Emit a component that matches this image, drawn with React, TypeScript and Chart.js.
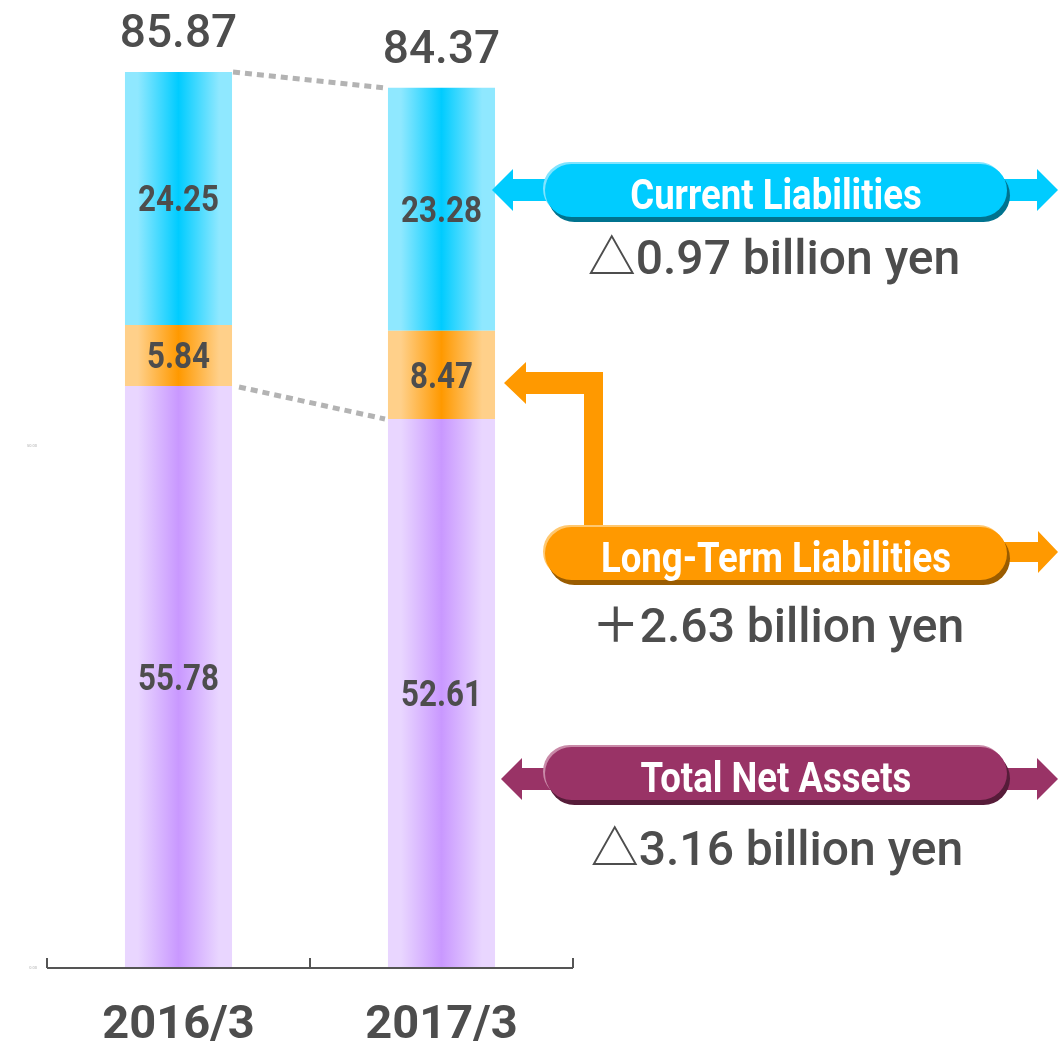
import React, { useEffect, useRef } from "react";
import { Chart, registerables } from "chart.js";

Chart.register(...registerables);

// ---------- data ----------
const categories = ["2016/3", "2017/3"];
const netAssets = [55.78, 52.61];
const longTermLiabilities = [5.84, 8.47];
const currentLiabilities = [24.25, 23.28];
const totals = [85.87, 84.37];
const yTicks = [0, 50];
const annotationTitles = ["Current Liabilities", "Long-Term Liabilities", "Total Net Assets"];
const annotationChanges = ["△0.97 billion yen", "＋2.63 billion yen", "△3.16 billion yen"];

// ---------- style ----------
const W = 1058;
const H = 1046;
const TEXT = "#4d4d4d";
const FONT = "Roboto, 'Noto Sans CJK JP', sans-serif";
const BAR_PCT = 0.407;

const palette = {
  current: { edge: "#8fe8ff", center: "#00ccff", pill: "#00ccff", dark: "#00738f", light: "#80e4ff" },
  long: { edge: "#ffd08a", center: "#ff9900", pill: "#ff9900", dark: "#9a5c00", light: "#ffc870" },
  net: { edge: "#e9d6ff", center: "#c998ff", pill: "#993366", dark: "#561c39", light: "#c98aa8" },
};

function barGradient(edge: string, center: string) {
  return (c: any) => {
    const chart = c.chart;
    const xs = chart.scales && chart.scales.x;
    if (!xs || !chart.chartArea || c.dataIndex === undefined) return center;
    const cx = xs.getPixelForValue(c.dataIndex);
    const half = ((xs.width / categories.length) * BAR_PCT) / 2;
    const g = chart.ctx.createLinearGradient(cx - half, 0, cx + half, 0);
    g.addColorStop(0, edge);
    g.addColorStop(0.12, edge);
    g.addColorStop(0.5, center);
    g.addColorStop(0.88, edge);
    g.addColorStop(1, edge);
    return g;
  };
}

function drawText(
  ctx: CanvasRenderingContext2D,
  s: string,
  x: number,
  capCenterY: number,
  size: number,
  weight: string,
  color: string,
  scaleX = 1
) {
  ctx.save();
  ctx.font = `${weight} ${size}px ${FONT}`;
  ctx.fillStyle = color;
  ctx.textAlign = "center";
  ctx.textBaseline = "alphabetic";
  ctx.translate(x, capCenterY + (size * 0.711) / 2);
  ctx.scale(scaleX, 1);
  ctx.fillText(s, 0, 0);
  ctx.restore();
}

function roundPill(ctx: CanvasRenderingContext2D, x: number, y: number, w: number, h: number) {
  const r = h / 2;
  ctx.beginPath();
  ctx.moveTo(x + r, y);
  ctx.lineTo(x + w - r, y);
  ctx.arc(x + w - r, y + r, r, -Math.PI / 2, Math.PI / 2);
  ctx.lineTo(x + r, y + h);
  ctx.arc(x + r, y + r, r, Math.PI / 2, (3 * Math.PI) / 2);
  ctx.closePath();
  ctx.fill();
}

function drawPill(ctx: CanvasRenderingContext2D, x: number, y: number, w: number, h: number, c: any) {
  ctx.fillStyle = c.light;
  roundPill(ctx, x - 2, y - 2, w, h);
  ctx.fillStyle = c.dark;
  roundPill(ctx, x + 3, y + 5, w, h);
  ctx.fillStyle = c.pill;
  roundPill(ctx, x, y, w, h);
}

function poly(ctx: CanvasRenderingContext2D, pts: number[][], color: string) {
  ctx.fillStyle = color;
  ctx.beginPath();
  ctx.moveTo(pts[0][0], pts[0][1]);
  for (let i = 1; i < pts.length; i++) ctx.lineTo(pts[i][0], pts[i][1]);
  ctx.closePath();
  ctx.fill();
}

// double-headed horizontal arrow
function doubleArrow(ctx: CanvasRenderingContext2D, l: number, r: number, yc: number, color: string) {
  const sh = 11, hh = 21, hl = 21;
  poly(
    ctx,
    [
      [l, yc],
      [l + hl, yc - hh],
      [l + hl, yc - sh],
      [r - hl, yc - sh],
      [r - hl, yc - hh],
      [r, yc],
      [r - hl, yc + hh],
      [r - hl, yc + sh],
      [l + hl, yc + sh],
      [l + hl, yc + hh],
    ],
    color
  );
}

function rightArrow(ctx: CanvasRenderingContext2D, l: number, r: number, yc: number, color: string) {
  const sh = 10, hh = 21, hl = 20;
  poly(
    ctx,
    [
      [l, yc - sh],
      [r - hl, yc - sh],
      [r - hl, yc - hh],
      [r, yc],
      [r - hl, yc + hh],
      [r - hl, yc + sh],
      [l, yc + sh],
    ],
    color
  );
}

const overlayPlugin = {
  id: "overlay",
  afterDatasetsDraw(chart: any) {
    const ctx: CanvasRenderingContext2D = chart.ctx;
    const a = chart.chartArea;
    const metaNet = chart.getDatasetMeta(0).data;
    const metaCur = chart.getDatasetMeta(2).data;

    ctx.save();
    // x axis line with upward ticks
    ctx.strokeStyle = "#555555";
    ctx.lineWidth = 2;
    ctx.beginPath();
    ctx.moveTo(a.left, a.bottom);
    ctx.lineTo(a.right, a.bottom);
    const step = (a.right - a.left) / categories.length;
    for (let i = 0; i <= categories.length; i++) {
      const px = Math.round(a.left + step * i);
      ctx.moveTo(px, a.bottom);
      ctx.lineTo(px, a.bottom - 10);
    }
    ctx.stroke();

    // dashed connectors
    ctx.strokeStyle = "#b3b3b3";
    ctx.lineWidth = 5;
    ctx.setLineDash([7, 5]);
    const c0 = metaCur[0].getProps(["x", "y", "width"], true);
    const c1 = metaCur[1].getProps(["x", "y", "width"], true);
    ctx.beginPath();
    ctx.moveTo(c0.x + c0.width / 2 + 1, c0.y);
    ctx.lineTo(c1.x - c1.width / 2 - 5, c1.y);
    ctx.stroke();
    const n0 = metaNet[0].getProps(["x", "y", "width"], true);
    const n1 = metaNet[1].getProps(["x", "y", "width"], true);
    ctx.beginPath();
    ctx.moveTo(n0.x + n0.width / 2 + 7, n0.y + 1);
    ctx.lineTo(n1.x - n1.width / 2 - 3, n1.y);
    ctx.stroke();
    ctx.setLineDash([]);

    // segment values
    const sets = [netAssets, longTermLiabilities, currentLiabilities];
    sets.forEach((vals, di) => {
      chart.getDatasetMeta(di).data.forEach((el: any, i: number) => {
        const p = el.getProps(["x", "y", "base"], true);
        drawText(ctx, vals[i].toFixed(2), p.x, (p.y + p.base) / 2, 36, "bold", TEXT, 0.87);
      });
    });

    // totals above bars
    metaCur.forEach((el: any, i: number) => {
      const p = el.getProps(["x", "y"], true);
      drawText(ctx, totals[i].toFixed(2), p.x, p.y - 25 - 16.5, 46, "500", TEXT);
    });

    // ---- annotations ----
    const pillX = 545, pillW = 462, pillH = 53;
    const cx = pillX + pillW / 2;

    // Current liabilities
    doubleArrow(ctx, 492, 1058, 190, palette.current.pill);
    drawPill(ctx, pillX, 164, pillW, pillH, palette.current);
    drawText(ctx, annotationTitles[0], cx, 194, 42, "bold", "#ffffff", 0.87);
    drawText(ctx, annotationChanges[0], cx - 2, 257, 48, "500", TEXT);

    // Long-term liabilities (elbow arrow)
    const lp = 527;
    poly(
      ctx,
      [
        [504, 383],
        [526, 362],
        [526, 372],
        [603, 372],
        [603, lp + 5],
        [584, lp + 5],
        [584, 394],
        [526, 394],
        [526, 404],
      ],
      palette.long.pill
    );
    rightArrow(ctx, 1000, 1058, 552, palette.long.pill);
    drawPill(ctx, pillX, lp, pillW, pillH, palette.long);
    drawText(ctx, annotationTitles[1], cx, 557, 42, "bold", "#ffffff", 0.87);
    drawText(ctx, annotationChanges[1], cx + 2, 625, 48, "500", TEXT);

    // Total net assets
    doubleArrow(ctx, 501, 1058, 779, palette.net.pill);
    drawPill(ctx, pillX, 747, pillW, pillH, palette.net);
    drawText(ctx, annotationTitles[2], cx, 777, 42, "bold", "#ffffff", 0.87);
    drawText(ctx, annotationChanges[2], cx + 1, 848, 48, "500", TEXT);

    ctx.restore();
  },
};

export default function App() {
  const ref = useRef<HTMLCanvasElement | null>(null);

  useEffect(() => {
    if (!ref.current) return;
    const chart = new Chart(ref.current, {
      type: "bar",
      data: {
        labels: categories,
        datasets: [
          {
            label: "Total Net Assets",
            data: netAssets,
            backgroundColor: barGradient(palette.net.edge, palette.net.center),
            borderWidth: 0,
          },
          {
            label: "Long-Term Liabilities",
            data: longTermLiabilities,
            backgroundColor: barGradient(palette.long.edge, palette.long.center),
            borderWidth: 0,
          },
          {
            label: "Current Liabilities",
            data: currentLiabilities,
            backgroundColor: barGradient(palette.current.edge, palette.current.center),
            borderWidth: 0,
          },
        ],
      },
      options: {
        responsive: false,
        maintainAspectRatio: false,
        animation: false,
        events: [],
        datasets: { bar: { barPercentage: BAR_PCT, categoryPercentage: 1 } },
        layout: { padding: { left: 0, right: 485, top: 0, bottom: 0 } },
        plugins: { legend: { display: false }, tooltip: { enabled: false } },
        scales: {
          x: {
            stacked: true,
            grid: { display: false, drawTicks: false },
            border: { display: false },
            ticks: {
              color: TEXT,
              padding: 30,
              font: { family: FONT, size: 47, weight: "bold" },
            },
            afterFit: (s: any) => {
              s.height = 78;
            },
          },
          y: {
            stacked: true,
            min: 0,
            max: 92.77,
            grid: { display: false, drawTicks: false },
            border: { display: false },
            afterBuildTicks: (s: any) => {
              s.ticks = yTicks.map((v) => ({ value: v }));
            },
            ticks: {
              color: "#b0b0b0",
              padding: 10,
              font: { family: FONT, size: 4 },
              callback: (v: any) => Number(v).toFixed(2),
            },
            afterFit: (s: any) => {
              s.width = 47;
              s.paddingTop = 0;
              s.paddingBottom = 0;
            },
          },
        },
      } as any,
      plugins: [overlayPlugin],
    });
    return () => chart.destroy();
  }, []);

  return (
    <div style={{ position: "absolute", left: 0, top: 0, width: W, height: H, background: "#ffffff" }}>
      <canvas ref={ref} width={W} height={H} style={{ display: "block", width: W, height: H }} />
    </div>
  );
}
